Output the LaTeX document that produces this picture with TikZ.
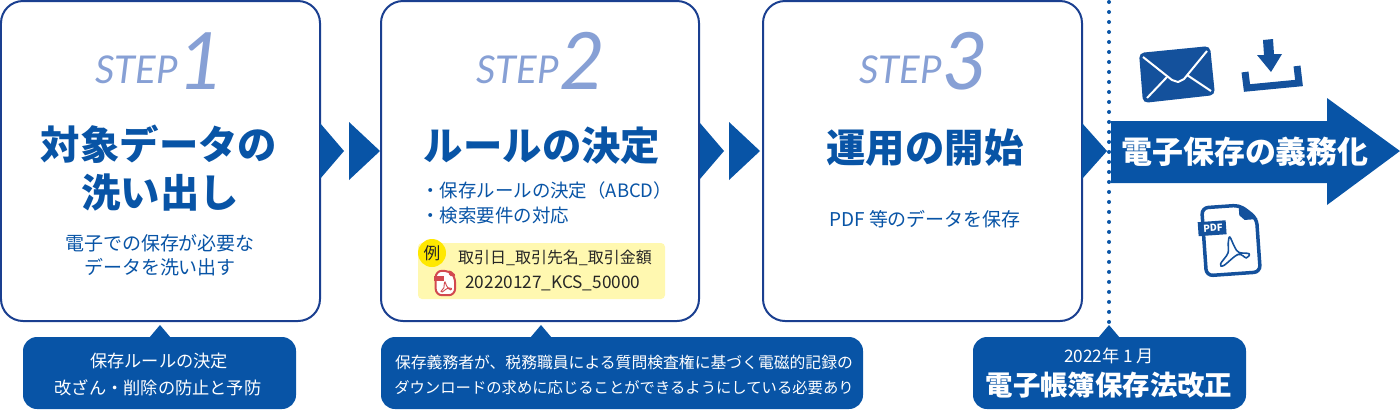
\documentclass[tikz,border=0pt]{standalone}
\usepackage{fontspec}
\setmainfont{Noto Sans CJK JP}
\newfontfamily\stepfont{Lato}
\newfontfamily\heavyfont{Noto Sans CJK JP Black}
\usetikzlibrary{arrows.meta, positioning}
\definecolor{kcsblue}{HTML}{0854A6}
\definecolor{kcsline}{HTML}{1A3F90}
\definecolor{kcsicon}{HTML}{14519C}
\definecolor{kcsstep}{HTML}{87A0D5}
\definecolor{kcsnote}{HTML}{FFF8B0}
\definecolor{kcsmark}{HTML}{FFE800}
\definecolor{kcspdf}{HTML}{D2494F}
\tikzset{
	pics/pdfdoc/.style args={#1/#2}{code={
		\draw[#1, line width=#2, fill=white, rounded corners=0.13cm, line join=round] (-26,-34) -- (12,-34) -- (28,-20) -- (28,34) -- (-26,34) -- cycle;
		\fill[#1] (11,-35) -- (29,-19) -- (16,-19) -- (11,-24) -- cycle;
		\fill[#1] (-31,-20) rectangle (-3,-6);
		\draw[#1, line width=#2*0.45] plot[smooth cycle, tension=0.6] coordinates {(0,-3) (4,7) (8,13) (18,15) (15,19) (7,15) (-8,25) (-11,23) (-3,13) (-2,3)};
	}}
}
\begin{document}
\begin{tikzpicture}[x=0.02cm, y=-0.02cm,
	stepbox/.style={draw=kcsline, line width=0.04cm, fill=white, rounded corners=0.44cm},
	chevron/.style={fill=kcsblue},
	bubble/.style={fill=kcsblue, rounded corners=0.28cm},
	steplabel/.style={text=kcsstep, anchor=base west, inner sep=0pt, font=\stepfont\itshape\fontsize{21.8}{26}\selectfont},
	stepnum/.style={text=kcsstep, anchor=base west, inner sep=0pt, font=\stepfont\itshape\fontsize{45}{52}\selectfont},
	headline/.style={text=kcsblue, inner sep=0pt, font=\bfseries\fontsize{22.4}{26}\selectfont},
	bodyline/.style={text=kcsblue, inner sep=0pt, font=\fontsize{10.8}{13}\selectfont},
	listline/.style={text=kcsblue, inner sep=0pt, anchor=west, font=\fontsize{10.5}{13}\selectfont},
	sampleline/.style={text=black!85, inner sep=0pt, font=\fontsize{9.1}{12}\selectfont},
	bubbleline/.style={text=white, inner sep=0pt, font=\fontsize{9.8}{12}\selectfont},
	bubblesmall/.style={text=white, inner sep=0pt, font=\fontsize{9}{12}\selectfont}]
	\useasboundingbox (0,0) rectangle (1400,410);

	\draw[stepbox] (1,1) rectangle (320,321);
	\node[steplabel] (stepa) at (95,83) {STEP};
	\node[stepnum] (numa) at (178,89) {1};
	\node[headline] (heada) at (159,144) {対象データの};
	\node[headline] (headb) at (160,193) {洗い出し};
	\node[bodyline] (bodya) at (160,243) {電子での保存が必要な};
	\node[bodyline] (bodyb) at (160,267) {データを洗い出す};

	\draw[stepbox] (381,1) rectangle (699,321);
	\node[steplabel] (stepb) at (476,83) {STEP};
	\node[stepnum] (numb) at (559,89) {2};
	\node[headline] (headc) at (542,146) {ルールの決定};
	\node[listline] (bodyc) at (421,190) {・保存ルールの決定（ABCD）};
	\node[listline] (bodyd) at (421,216) {・検索要件の対応};

	\fill[kcsnote, rounded corners=0.08cm] (418,243) rectangle (665,299);
	\node[circle, fill=kcsmark, minimum size=0.56cm, inner sep=0pt] (markc) at (432,253) {};
	\node[text=black!85, inner sep=0pt, font=\fontsize{9.5}{12}\selectfont] (marka) at (432,253) {例};
	\node[sampleline] (samplea) at (555,258) {取引日\_取引先名\_取引金額};
	\node[sampleline, anchor=west, font=\fontsize{9.8}{12}\selectfont] (sampleb) at (465,283) {20220127\_KCS\_50000};
	\pic[scale=0.36] (smallpdf) at (445,283) {pdfdoc={kcspdf/0.04cm}};

	\draw[stepbox] (763,1) rectangle (1082,321);
	\node[steplabel] (stepc) at (859,83) {STEP};
	\node[stepnum] (numc) at (942,89) {3};
	\node[headline] (headd) at (925,148) {運用の開始};
	\node[bodyline] (bodye) at (925,219) {PDF 等のデータを保存};

	\fill[chevron] (320,123) -- (344,151) -- (320,179) -- cycle;
	\fill[chevron] (349,122) -- (380,151) -- (349,180) -- cycle;
	\fill[chevron] (700,123) -- (724,151) -- (700,179) -- cycle;
	\fill[chevron] (729,122) -- (760,151) -- (729,180) -- cycle;
	\fill[chevron] (1082,123) -- (1107,151) -- (1082,179) -- cycle;

	\fill[kcsblue] (1111,121) -- (1327,121) -- (1327,98) -- (1400,151) -- (1327,205) -- (1327,183) -- (1111,183) -- cycle;
	\node[text=white, inner sep=0pt, font=\heavyfont\fontsize{17.6}{21}\selectfont] (dutytext) at (1245,152) {電子保存の義務化};
	\draw[kcsblue, line width=0.08cm, line cap=round, dash pattern=on 0pt off 0.2cm] (1109,2) -- (1109,326);

	\fill[kcsicon, rounded corners=0.1cm] (1139,53) -- (1210,46) -- (1215,95) -- (1143,103) -- cycle;
	\draw[white, line width=0.04cm, line join=round] (1143,57) -- (1172,80) -- (1178,82) -- (1184,79) -- (1207,51);
	\draw[white, line width=0.04cm] (1147,98) -- (1167,77);
	\draw[white, line width=0.04cm] (1211,91) -- (1187,75);

	\fill[kcsicon] (1263,40) -- (1273,39) -- (1274,54) -- (1282,54) -- (1271,72) -- (1257,55) -- (1264,55) -- cycle;
	\draw[kcsicon, line width=0.14cm] (1245,72) -- (1247,88) -- (1299,83) -- (1297,66);

	\pic[rotate=4] (largepdf) at (1230,240) {pdfdoc={kcsicon/0.07cm}};
	\node[text=white, inner sep=0pt, rotate=4, font=\bfseries\fontsize{5.5}{7}\selectfont] (pdftag) at (1213,228) {PDF};

	\fill[bubble] (23,337) rectangle (296,409);
	\fill[kcsblue] (149,338) -- (160,325) -- (171,338) -- cycle;
	\node[bubbleline] (notea) at (159,361) {保存ルールの決定};
	\node[bubbleline] (noteb) at (158,388) {改ざん・削除の防止と予防};

	\fill[bubble] (381,337) rectangle (863,409);
	\fill[kcsblue] (530,338) -- (541,325) -- (552,338) -- cycle;
	\node[bubblesmall] (notec) at (624,362) {保存義務者が、税務職員による質問検査権に基づく電磁的記録の};
	\node[bubblesmall, font=\fontsize{8.73}{12}\selectfont] (noted) at (624,388) {ダウンロードの求めに応じることができるようにしている必要あり};

	\fill[bubble] (973,337) rectangle (1246,409);
	\fill[kcsblue] (1098,338) -- (1109,325) -- (1120,338) -- cycle;
	\node[bubbleline] (notee) at (1109,356) {2022年 1 月};
	\node[text=white, inner sep=0pt, font=\heavyfont\fontsize{15.6}{19}\selectfont] (notef) at (1109,385) {電子帳簿保存法改正};
\end{tikzpicture}
\end{document}
